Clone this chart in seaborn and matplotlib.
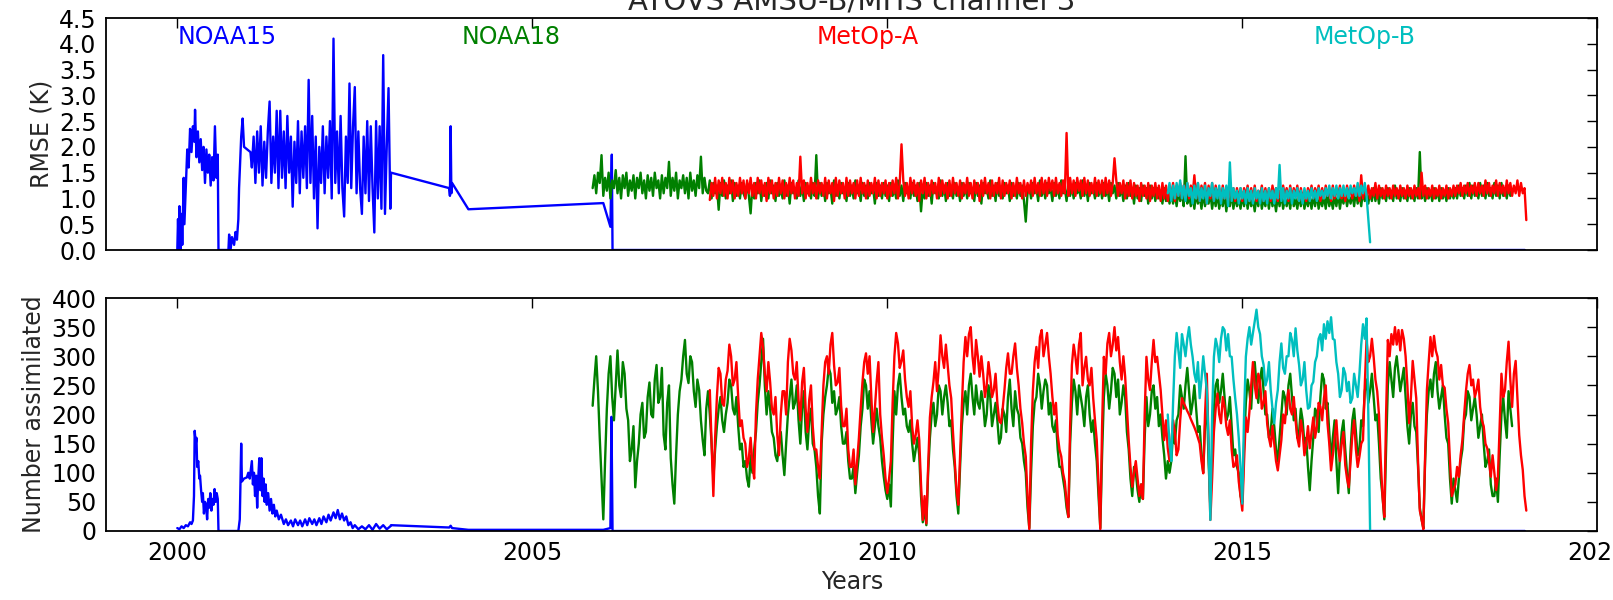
import numpy as np
import matplotlib
matplotlib.use("Agg")
import matplotlib.pyplot as plt
import seaborn as sns

# ------------------------------------------------------------------ data
STEP = 0.025  # sampling interval (years) of the NOAA18 / MetOp series

noaa18_start = 2005.85
noaa18_count = [
    215, 260, 300, 240, 160, 90, 20, 120, 210, 270, 300, 230, 190, 250, 310, 250, 230, 290, 270, 210,
    190, 120, 140, 180, 75, 120, 150, 200, 220, 160, 170, 230, 255, 200, 195, 260, 285, 220, 230, 280,
    165, 140, 220, 250, 125, 80, 47, 130, 200, 240, 260, 300, 328, 270, 254, 300, 290, 240, 213, 260,
    242, 190, 156, 130, 210, 240,
    200, 150, 90, 140, 180, 210, 230, 190, 170, 200, 220, 260, 250, 210, 200, 230, 180, 140, 150, 110,
    120, 90, 76, 130, 100, 140, 170, 220, 250, 290, 330, 250, 200, 240, 210, 170, 160, 130, 120, 150,
    170, 130, 96, 150, 200, 230, 260, 210, 220, 250, 190, 150, 210, 240, 170, 140, 190, 210, 150, 140,
    110, 60, 30, 150, 200, 230, 250, 280, 270, 220, 240, 200, 210, 230, 180, 150, 150, 170, 120, 90,
    90, 110, 65, 100, 130, 180, 210, 260, 250, 210, 240, 190, 150, 180, 210, 180, 160, 120, 93, 70,
    55, 80, 42, 150, 240, 200, 250, 270, 230, 200, 210, 180, 170, 190, 150, 120, 140, 160, 130, 60,
    15, 40, 10, 100, 160, 200, 220, 180, 200, 250, 240, 200, 230, 250, 220, 180, 190, 140, 110, 60,
    30, 110, 180, 220, 240, 200, 250, 270, 230, 200, 250, 220, 210, 240, 220, 180, 200, 250, 230, 180,
    200, 220, 190, 150, 160, 210, 200, 170, 230, 260, 210, 180, 240, 210, 200, 160, 150, 120, 100, 40,
    5, 100, 180, 220, 230, 270, 250, 210, 240, 260, 250, 200, 220, 180, 170, 190, 140, 110, 110, 90,
    70, 40, 24, 150, 220, 260, 240, 200, 250, 230, 210, 180, 230, 250, 200, 170, 190, 150, 120, 60,
    5, 130, 230, 270, 250, 210, 240, 280, 270, 230, 260, 200, 220, 250, 230, 170, 140, 90, 60, 110,
    100, 70, 50, 80, 55, 160, 230, 180, 200, 240, 250, 210, 230, 180, 200, 160, 130, 90, 120, 100,
    120, 170, 150, 190, 200, 250, 230, 210, 250, 280, 240, 200, 220, 250, 210, 170, 180, 130, 100, 180,
    230, 120, 40, 140, 210, 250, 260, 220, 240, 270, 230, 190, 200, 230, 180, 130, 140, 110, 100, 60,
    50, 150, 220, 260, 240, 210, 270, 290, 250, 220, 260, 280, 240, 200, 200, 160, 170, 210, 180, 140,
    120, 160, 200, 240, 230, 200, 250, 270, 230, 190, 210, 160, 170, 210, 190, 150, 160, 110, 70, 120,
    160, 210, 200, 170, 230, 270, 260, 210, 220, 170, 120, 160, 190, 120, 65, 130, 170, 190, 140, 100,
    65, 140, 190, 210, 170, 130, 140, 190, 180, 240, 260, 220, 240, 270, 230, 190, 200, 150, 90, 60,
    20, 140, 250, 290, 260, 230, 280, 300, 270, 240, 260, 280, 230, 180, 150, 200, 220, 180, 170, 110,
    40, 20, 5, 120, 200, 240, 260, 230, 270, 290, 240, 210, 230, 250, 200, 160, 150, 90, 47, 90,
    70, 50, 90, 120, 140, 190, 200, 240, 230, 190, 210, 230, 200, 160, 180, 200, 150, 110, 120, 140,
    80, 60, 60, 90, 50, 130, 200, 230, 190, 160, 240, 210, 180,
]
noaa18_rmse = [
    1.2, 1.45, 1.1, 1.5, 1.3, 1.84, 1.05, 1.4, 1.15, 1.5, 1.0, 1.35, 1.2, 1.55, 1.1, 1.4, 1.0, 1.45, 1.2, 1.5,
    1.05, 1.35, 1.15, 1.45, 1.0, 1.4, 1.2, 1.5, 1.1, 1.35, 1.0, 1.45, 1.15, 1.4, 1.05, 1.5, 1.2, 1.35, 1.0, 1.45,
    1.1, 1.4, 1.2, 1.71, 1.05, 1.4, 1.15, 1.5, 1.0, 1.35, 1.2, 1.45, 1.1, 1.4, 1.0, 1.5, 1.15, 1.35, 1.05, 1.45,
    1.2, 1.81, 1.1, 1.4, 1.15,
    1.1, 1.35, 1.0, 1.3, 1.1, 1.25, 0.78, 1.3, 1.05, 1.35, 1.0, 1.25, 1.1, 1.35, 0.95, 1.3, 1.05, 1.25, 1.0, 1.3, 1.1,
    1.0, 1.3, 1.05, 0.71, 1.25, 1.0, 1.3, 1.1, 1.35, 0.95, 1.25, 1.05, 1.3, 1.0, 1.35, 1.1, 1.25, 0.95, 1.3, 1.05,
    1.2, 1.0, 1.35, 1.05, 1.25, 0.9, 1.3, 1.1, 1.2, 1.0, 1.35, 1.05, 1.25, 0.95, 1.3, 1.1, 1.2, 1.0, 1.3, 1.05,
    1.84, 1.0, 1.3, 1.05, 1.25, 0.95, 1.3, 1.1, 1.2, 0.9, 1.35, 1.05, 1.25, 1.0, 1.3, 1.1, 1.2, 0.95, 1.3, 1.05,
    1.25, 1.0, 1.35, 1.1, 1.2, 0.95, 1.3, 1.05, 1.25, 1.0, 1.3, 1.1, 1.2, 0.9, 1.3, 1.05, 1.25, 1.0, 1.3, 1.05,
    1.25, 0.95, 1.3, 1.05, 1.2, 1.0, 1.35, 1.05, 1.25, 0.95, 1.3, 1.1, 1.2, 1.0, 1.3, 1.05, 1.25, 0.95, 1.3, 0.75,
    1.2, 1.0, 1.3, 1.05, 1.25, 0.9, 1.3, 1.1, 1.2, 1.0, 1.35, 1.05, 1.25, 0.95, 1.3, 1.05, 1.2, 1.0, 1.3, 1.05,
    1.2, 0.95, 1.3, 1.05, 1.25, 1.0, 1.3, 1.1, 1.2, 0.95, 1.3, 1.05, 1.25, 0.9, 1.3, 1.1, 1.2, 1.0, 1.35, 1.05,
    1.25, 0.95, 1.3, 1.05, 1.2, 1.0, 1.3, 1.1, 1.25, 0.95, 1.3, 1.05, 1.2, 1.0, 1.3, 1.05, 1.25, 0.95, 0.55, 1.1,
    1.25, 1.0, 1.3, 1.1, 1.2, 0.95, 1.35, 1.05, 1.25, 1.0, 1.3, 1.1, 1.2, 0.95, 1.3, 1.05, 1.25, 1.0, 1.35, 1.1,
    1.2, 0.95, 1.3, 1.05, 1.25, 1.0, 1.3, 1.1, 1.2, 1.0, 1.35, 1.05, 1.25, 0.95, 1.3, 1.1, 1.2, 1.0, 1.3, 1.05,
    1.25, 1.0, 1.3, 1.05, 1.2, 0.95, 1.3, 1.1, 1.25, 1.0, 1.3, 1.05, 1.2, 0.95, 1.25, 1.0, 1.3, 1.05, 1.2, 0.9,
    1.25, 1.0, 1.2, 0.95, 1.25, 1.05, 1.2, 0.9, 1.25, 1.0, 1.2, 0.95, 1.2, 1.0, 1.15, 0.9, 1.2, 0.95, 1.15, 0.9,
    1.15, 0.9, 1.1, 0.85, 1.15, 0.95, 1.1, 0.85, 1.82, 0.9, 1.1, 0.85, 1.05, 0.8, 1.1, 0.9, 1.05, 0.8, 1.1, 0.85,
    1.05, 0.9, 1.1, 0.8, 1.05, 0.85, 1.1, 0.8, 1.0, 0.85, 1.1, 0.75, 1.05, 0.85, 1.1, 0.8, 1.05, 0.85, 1.0, 0.8,
    1.05, 0.85, 1.1, 0.8, 1.05, 0.85, 1.0, 0.75, 1.05, 0.85, 1.1, 0.8, 1.0, 0.85, 1.05, 0.8, 1.1, 0.85, 1.0, 0.75,
    1.05, 0.85, 1.1, 0.8, 1.0, 0.85, 1.05, 0.8, 1.1, 0.85, 1.0, 0.8, 1.05, 0.85, 1.1, 0.8, 1.0, 0.85, 1.05, 0.8,
    1.05, 0.85, 1.1, 0.8, 1.0, 0.85, 1.05, 0.8, 1.1, 0.85, 1.0, 0.8, 1.05, 0.85, 1.1, 0.8, 1.05, 0.9, 1.1, 0.85,
    1.05, 0.9, 1.1, 0.85, 1.15, 0.9, 1.1, 0.85, 1.15, 0.95, 1.1, 0.9, 1.15, 0.95, 1.2, 0.95, 1.15, 0.9, 1.2, 1.0,
    1.15, 0.95, 1.2, 1.0, 1.15, 0.95, 1.25, 1.0, 1.15, 0.95, 1.2, 1.0, 1.15, 0.95, 1.2, 1.0, 1.15, 0.95, 1.2, 1.0,
    1.9, 1.0, 1.15, 0.95, 1.2, 1.0, 1.15, 0.95, 1.2, 1.0, 1.15, 0.95, 1.2, 1.0, 1.15, 0.95, 1.2, 1.0, 1.15, 1.0,
    1.2, 1.0, 1.25, 1.05, 1.2, 1.0, 1.25, 1.05, 1.3, 1.0, 1.25, 1.05, 1.2, 1.0, 1.3, 1.05, 1.25, 1.0, 1.3, 1.05,
    1.2, 1.0, 1.3, 1.05, 1.25, 1.0, 1.3, 1.05, 1.2, 1.0, 1.25, 1.05, 1.15,
]

metopa_start = 2007.50
metopa_count = [
    242, 150, 60, 160, 230, 280, 270, 220, 215, 260, 275, 320, 300, 250, 260, 290, 230, 180, 190, 160,
    150, 110, 125, 160, 115, 90, 200, 260, 300, 340, 315, 270, 240, 290, 255, 210, 200, 230, 165, 130,
    200, 240, 240, 200, 290, 330, 310, 270, 260, 290, 225, 190, 255, 280, 210, 170, 225, 250, 180, 140,
    140, 110, 90, 170, 250, 290, 300, 270, 320, 340, 285, 250, 255, 280, 215, 180, 180, 210, 140, 110,
    110, 140, 80, 120, 160, 210, 255, 290, 305, 270, 300, 230, 170, 210, 256, 290, 200, 160, 130, 90,
    65, 90, 120, 220, 300, 340, 322, 280, 292, 310, 260, 230, 213, 240, 180, 150, 165, 190, 156, 80,
    19, 60, 13, 110, 195, 230, 256, 290, 240, 280, 336, 300, 280, 320, 285, 250, 228, 170, 120, 70,
    45, 130, 213, 290, 333, 300, 338, 350, 300, 270, 328, 300, 265, 300, 270, 230, 250, 290, 265, 230,
    242, 270, 220, 190, 185, 210, 242, 280, 305, 270, 270, 300, 322, 280, 250, 210, 185, 150, 128, 60,
    3, 150, 240, 290, 316, 280, 333, 345, 300, 320, 340, 300, 270, 230, 200, 220, 165, 140, 128, 100,
    85, 50, 24, 180, 285, 320, 299, 270, 320, 340, 250, 280, 299, 260, 250, 280, 228, 190, 156, 80,
    3, 180, 299, 270, 322, 340, 300, 320, 350, 310, 333, 290, 260, 300, 265, 210, 156, 110, 76, 100,
    120, 90, 60, 80, 55, 200, 299, 260, 242, 290, 328, 290, 299, 270, 242, 200, 156, 190, 142, 120,
    150, 190, 170, 130, 140, 190, 228, 220, 213, 206, 200, 192, 185, 178, 170, 160, 150, 120, 99, 200,
    270, 150, 19, 90, 170, 210, 236, 200, 185, 230, 213, 180, 165, 190, 140, 110, 113, 130, 85, 60,
    35, 120, 195, 170, 205, 250, 290, 250, 228, 270, 256, 210, 220, 240, 185, 160, 145, 180, 150, 120,
    104, 130, 156, 200, 185, 220, 242, 210, 200, 230, 190, 160, 145, 190, 170, 130, 150, 180, 142, 170,
    195, 160, 180, 220, 213, 190, 228, 250, 185, 150, 104, 130, 160, 190, 142, 120, 150, 170, 113, 90,
    75, 120, 165, 190, 140, 110, 128, 150, 156, 250, 328, 290, 300, 330, 299, 260, 240, 200, 120, 60,
    24, 200, 328, 300, 338, 320, 350, 320, 345, 310, 345, 330, 300, 250, 185, 230, 292, 260, 228, 120,
    35, 20, 3, 130, 242, 290, 333, 300, 335, 310, 299, 260, 285, 250, 246, 210, 185, 120, 60, 70,
    80, 110, 93, 130, 156, 200, 240, 270, 285, 250, 260, 230, 242, 260, 213, 190, 180, 150, 142, 120,
    93, 130, 100, 70, 93, 180, 270, 230, 242, 290, 325, 260, 213, 270, 292, 230, 165, 130, 105, 60, 35,
]
metopa_rmse = [
    0.97, 1.3, 1.05, 1.4, 1.0, 1.35, 1.1, 1.4, 1.05, 1.3, 1.0, 1.4, 1.1, 1.35, 1.0, 1.3, 1.05, 1.4, 1.1, 1.35,
    1.0, 1.35, 1.1, 1.4, 1.05, 1.3, 1.0, 1.4, 1.1, 1.35, 1.05, 1.3, 0.95, 1.4, 1.1, 1.35, 1.0, 1.3, 1.05, 1.4,
    1.1, 1.35, 1.0, 1.3, 1.05, 1.4, 1.1, 1.35, 1.0, 1.3, 1.05, 1.81, 1.1, 1.35, 1.0, 1.3, 1.05, 1.4, 1.1, 1.3,
    1.0, 1.35, 1.1, 1.3, 1.05, 1.4, 1.0, 1.35, 1.1, 1.3, 0.95, 1.4, 1.05, 1.35, 1.1, 1.3, 1.0, 1.4, 1.05, 1.35,
    1.1, 1.3, 1.0, 1.35, 1.05, 1.4, 1.1, 1.3, 1.0, 1.35, 1.05, 1.3, 1.1, 1.4, 1.0, 1.35, 1.05, 1.3, 1.1, 1.35,
    1.0, 1.3, 1.05, 1.35, 1.1, 1.4, 1.0, 1.3, 2.05, 1.35, 1.05, 1.3, 1.0, 1.4, 1.1, 1.35, 1.05, 1.3, 0.95, 1.35,
    1.1, 1.4, 1.0, 1.3, 1.05, 1.35, 1.1, 1.3, 1.0, 1.4, 1.05, 1.35, 1.1, 1.3, 1.0, 1.35, 1.05, 1.4, 1.1, 1.3,
    1.05, 1.35, 1.0, 1.3, 1.1, 1.4, 1.05, 1.3, 1.0, 1.35, 1.1, 1.3, 0.95, 1.35, 1.05, 1.4, 1.1, 1.3, 1.0, 1.35,
    1.05, 1.3, 1.1, 1.4, 1.0, 1.35, 1.05, 1.3, 1.1, 1.35, 1.0, 1.3, 1.05, 1.4, 1.1, 1.3, 1.0, 1.35, 1.05, 1.3,
    1.1, 1.35, 1.05, 1.4, 1.1, 1.3, 1.05, 1.4, 1.1, 1.35, 1.05, 1.4, 1.15, 1.35, 1.05, 1.4, 1.1, 1.3, 1.05, 1.35,
    1.1, 2.27, 1.05, 1.4, 1.1, 1.35, 1.05, 1.4, 1.15, 1.35, 1.05, 1.4, 1.1, 1.35, 1.05, 1.3, 1.1, 1.4, 1.05, 1.35,
    1.1, 1.35, 1.05, 1.4, 1.1, 1.35, 1.05, 1.3, 1.78, 1.35, 1.05, 1.3, 1.1, 1.35, 1.0, 1.3, 1.05, 1.35, 1.0, 1.3,
    1.05, 1.25, 0.95, 1.3, 1.05, 1.25, 1.0, 1.3, 0.95, 1.25, 1.05, 1.3, 1.0, 1.25, 0.95, 1.3, 1.0, 1.25, 0.95, 1.2,
    1.05, 1.3, 0.95, 1.25, 1.05, 1.3, 1.0, 1.25, 1.1, 1.3, 1.0, 1.25, 1.05, 1.45, 1.0, 1.3, 0.95, 1.25, 1.05, 1.3,
    0.9, 1.25, 1.0, 1.3, 0.95, 1.25, 1.05, 1.2, 0.95, 1.25, 1.0, 1.2, 0.95, 1.25, 1.05, 1.2, 0.95, 1.2, 1.0, 1.2,
    0.95, 1.2, 1.05, 1.25, 0.95, 1.2, 1.0, 1.25, 0.95, 1.15, 1.05, 1.25, 0.95, 1.2, 1.0, 1.2, 0.95, 1.25, 1.05, 1.2,
    0.95, 1.15, 1.0, 1.25, 1.05, 1.2, 0.95, 1.25, 1.0, 1.2, 1.05, 1.25, 0.95, 1.2, 1.0, 1.15, 0.95, 1.2, 1.05, 1.25,
    1.0, 1.2, 1.05, 1.25, 0.95, 1.2, 1.0, 1.25, 1.05, 1.2, 0.95, 1.25, 1.0, 1.2, 1.05, 1.25, 1.0, 1.2, 0.95, 1.25,
    1.05, 1.2, 1.0, 1.25, 1.05, 1.2, 0.95, 1.45, 1.0, 1.2, 1.05, 1.25, 1.0, 1.2, 1.05, 1.3, 1.0, 1.25, 1.05, 1.2,
    1.0, 1.25, 1.05, 1.2, 1.0, 1.25, 1.05, 1.2, 1.0, 1.25, 1.05, 1.2, 1.0, 1.25, 1.05, 1.2, 1.0, 1.25, 1.05, 1.2,
    1.0, 1.5, 1.05, 1.25, 1.0, 1.2, 1.05, 1.25, 1.0, 1.2, 1.05, 1.25, 1.0, 1.2, 1.05, 1.25, 1.0, 1.2, 1.05, 1.25,
    1.05, 1.25, 1.1, 1.3, 1.05, 1.25, 1.1, 1.3, 1.05, 1.25, 1.1, 1.3, 1.05, 1.3, 1.1, 1.25, 1.05, 1.35, 1.1, 1.3,
    1.05, 1.25, 1.1, 1.35, 1.05, 1.3, 1.1, 1.25, 1.05, 1.35, 1.1, 1.3, 1.05, 1.25, 1.1, 1.35, 1.05, 1.3, 1.1, 1.2,
    0.58,
]

metopb_start = 2013.95
metopb_count = [
    200, 150, 120, 220, 300, 340, 310, 280, 338, 320, 300, 330, 350, 320, 299, 270, 256, 290, 228, 260,
    300, 270, 242, 150, 19, 200, 299, 330, 316, 290, 330, 350, 345, 310, 338, 300, 299, 260, 228, 200,
    160, 110, 47, 200, 299, 330, 350, 320, 340, 360, 380, 350, 338, 300, 285, 250, 260, 290, 242, 210,
    185, 220, 242, 290, 322, 280, 270, 300, 300, 340, 328, 300, 348, 310, 285, 250, 260, 290, 242, 210,
    213, 250, 256, 290, 300, 330, 338, 310, 355, 330, 360, 340, 367, 330, 328, 290, 270, 230, 242, 280,
    270, 240, 256, 220, 228, 270, 250, 230, 270, 320, 355, 330, 365, 200, 0,
]
metopb_rmse = [
    1.1, 1.3, 0.95, 1.25, 1.0, 1.3, 1.05, 1.35, 1.0, 1.25, 0.95, 1.3, 1.05, 1.2, 0.9, 1.25, 1.0, 1.3, 0.95, 1.2,
    1.0, 1.25, 0.9, 1.2, 1.05, 1.3, 0.95, 1.2, 1.0, 1.25, 0.9, 1.2, 1.0, 1.25, 0.85, 1.7, 0.95, 1.2, 1.0, 1.15,
    0.9, 1.2, 1.0, 1.15, 0.9, 1.2, 0.95, 1.15, 0.9, 1.2, 1.0, 1.15, 0.9, 1.2, 0.95, 1.15, 0.9, 1.2, 1.0, 1.15,
    0.9, 1.2, 1.0, 1.65, 0.95, 1.2, 0.9, 1.15, 1.0, 1.2, 0.9, 1.15, 1.0, 1.2, 0.95, 1.15, 0.9, 1.2, 1.0, 1.15,
    0.95, 1.2, 1.0, 1.15, 0.95, 1.2, 1.05, 1.15, 1.0, 1.2, 1.05, 1.25, 1.0, 1.2, 1.05, 1.25, 1.0, 1.2, 1.05, 1.25,
    1.05, 1.2, 1.0, 1.25, 1.1, 1.2, 1.05, 1.3, 1.05, 1.25, 1.1, 1.3, 1.05, 0.6, 0.15,
]

# NOAA15 RMSE: irregular start, a dense band (2001.05-2003.0), then sparse points
noaa15_rmse_early = [
    (2000.00, 0.0), (2000.01, 0.6), (2000.02, 0.0), (2000.03, 0.85), (2000.045, 0.0), (2000.06, 0.7),
    (2000.07, 0.1), (2000.09, 1.4), (2000.10, 0.5), (2000.12, 1.2), (2000.14, 1.95), (2000.16, 1.6),
    (2000.18, 2.35), (2000.20, 1.9), (2000.22, 2.4), (2000.24, 2.1), (2000.25, 2.72), (2000.27, 1.8),
    (2000.29, 2.3), (2000.31, 1.7), (2000.33, 2.15), (2000.35, 1.55), (2000.37, 2.0), (2000.39, 1.3),
    (2000.41, 1.95), (2000.43, 1.5), (2000.45, 1.85), (2000.47, 1.25), (2000.49, 1.8), (2000.51, 1.35),
    (2000.53, 2.4), (2000.55, 1.4), (2000.57, 1.85), (2000.58, 0.0), (2000.72, 0.0), (2000.73, 0.3),
    (2000.75, 0.0), (2000.77, 0.25), (2000.80, 0.1), (2000.82, 0.35), (2000.84, 0.2), (2000.86, 0.6),
    (2000.87, 1.2), (2000.89, 1.85), (2000.90, 2.2), (2000.92, 2.55), (2000.94, 2.0), (2001.03, 1.9),
]
noaa15_band_start = 2001.05
noaa15_band_step = 0.025
noaa15_rmse_band = [
    1.6, 2.2, 1.3, 2.3, 1.5, 2.4, 1.25, 2.1, 1.4, 2.3, 2.88, 1.3, 2.2, 1.5, 2.7, 1.2, 2.7, 1.4, 2.3, 1.2,
    2.6, 1.5, 2.2, 0.84, 2.1, 1.3, 2.5, 1.1, 2.3, 1.4, 2.4, 1.2, 3.3, 1.3, 2.6, 1.0, 2.2, 0.42, 2.0, 1.3,
    2.4, 1.1, 2.2, 1.4, 2.5, 1.0, 4.1, 1.3, 2.3, 1.1, 2.6, 1.2, 0.65, 2.2, 1.3, 3.23, 1.2, 2.4, 3.16, 1.1,
    2.3, 1.2, 0.7, 2.2, 1.1, 2.5, 0.95, 2.4, 1.2, 0.34, 2.5, 1.0, 2.4, 0.8, 3.78, 0.7, 2.0, 3.14, 0.8,
]
noaa15_rmse_late = [
    (2003.01, 1.5), (2003.83, 1.2), (2003.84, 1.05), (2003.85, 2.4), (2003.86, 1.1), (2003.87, 1.3),
    (2004.10, 0.79), (2006.00, 0.91), (2006.10, 0.45), (2006.12, 1.85), (2006.13, 0.0), (2018.98, 0.0),
]
noaa15_count = [
    (2000.00, 5), (2000.03, 3), (2000.06, 8), (2000.09, 5), (2000.12, 10), (2000.15, 8), (2000.18, 15),
    (2000.20, 12), (2000.22, 18), (2000.235, 60), (2000.245, 172), (2000.26, 150), (2000.27, 160),
    (2000.28, 110), (2000.295, 120), (2000.31, 90), (2000.32, 95), (2000.335, 70), (2000.35, 50),
    (2000.36, 65), (2000.375, 30), (2000.39, 50), (2000.405, 45), (2000.42, 20), (2000.435, 55),
    (2000.45, 40), (2000.465, 65), (2000.48, 35), (2000.495, 55), (2000.51, 45), (2000.525, 72),
    (2000.54, 50), (2000.555, 65), (2000.57, 55), (2000.58, 0), (2000.86, 0), (2000.88, 20), (2000.90, 150),
    (2000.91, 85), (2000.94, 90), (2000.98, 92), (2001.00, 100), (2001.02, 90), (2001.05, 120),
    (2001.065, 80), (2001.08, 100), (2001.095, 60), (2001.11, 95), (2001.125, 40), (2001.14, 90),
    (2001.155, 125), (2001.17, 70), (2001.185, 125), (2001.20, 60), (2001.215, 90), (2001.23, 50),
    (2001.245, 80), (2001.26, 45), (2001.28, 65), (2001.30, 35), (2001.32, 55), (2001.34, 30),
    (2001.36, 45), (2001.38, 25), (2001.40, 35), (2001.43, 20), (2001.46, 28), (2001.50, 12),
    (2001.53, 20), (2001.56, 10), (2001.60, 18), (2001.63, 8), (2001.66, 20), (2001.70, 10),
    (2001.73, 18), (2001.76, 8), (2001.80, 20), (2001.83, 10), (2001.86, 22), (2001.90, 12),
    (2001.93, 20), (2001.96, 10), (2002.00, 22), (2002.03, 12), (2002.06, 25), (2002.10, 15),
    (2002.13, 28), (2002.16, 18), (2002.20, 32), (2002.23, 22), (2002.26, 36), (2002.29, 20),
    (2002.32, 30), (2002.35, 18), (2002.38, 25), (2002.41, 10), (2002.44, 15), (2002.47, 5),
    (2002.50, 10), (2002.55, 3), (2002.60, 8), (2002.65, 3), (2002.70, 10), (2002.75, 2),
    (2002.80, 12), (2002.85, 4), (2002.90, 10), (2002.95, 3), (2003.00, 8), (2003.01, 10),
    (2003.83, 6), (2003.85, 9), (2003.87, 5), (2004.10, 2), (2006.00, 2), (2006.10, 5),
    (2006.115, 196), (2006.13, 0), (2018.98, 0),
]

satellite_names = ["NOAA15", "NOAA18", "MetOp-A", "MetOp-B"]
satellite_colors = ["b", "g", "r", "c"]
label_years = [2000, 2004, 2009, 2016]
label_rmse_level = 4.0

title = "ATOVS AMSU-B/MHS channel 3"
ylabel_top = "RMSE (K)"
ylabel_bottom = "Number assimilated"
xlabel = "Years"
year_ticks = [2000, 2005, 2010, 2015, 2020]

# ------------------------------------------------------------------ helpers
def regular_years(start, values, step=STEP):
    return start + step * np.arange(len(values))


def draw(ax, x, y, color):
    sns.lineplot(x=np.asarray(x, float), y=np.asarray(y, float), ax=ax, color=color,
                 linewidth=1.7, estimator=None, sort=False, legend=False)


n15_rx = ([p[0] for p in noaa15_rmse_early]
          + list(regular_years(noaa15_band_start, noaa15_rmse_band, noaa15_band_step))
          + [p[0] for p in noaa15_rmse_late])
n15_ry = ([p[1] for p in noaa15_rmse_early] + noaa15_rmse_band
          + [p[1] for p in noaa15_rmse_late])
n15_cx = [p[0] for p in noaa15_count]
n15_cy = [p[1] for p in noaa15_count]

series_rmse = [
    (n15_rx, n15_ry),
    (regular_years(noaa18_start, noaa18_rmse), noaa18_rmse),
    (regular_years(metopa_start, metopa_rmse), metopa_rmse),
    (regular_years(metopb_start, metopb_rmse), metopb_rmse),
]
series_count = [
    (n15_cx, n15_cy),
    (regular_years(noaa18_start, noaa18_count), noaa18_count),
    (regular_years(metopa_start, metopa_count), metopa_count),
    (regular_years(metopb_start, metopb_count), metopb_count),
]

# ------------------------------------------------------------------ style
sns.set_style("white")
plt.rcParams["font.family"] = ["DejaVu Sans"]
plt.rcParams["axes.linewidth"] = 1.3
plt.rcParams["axes.edgecolor"] = "black"

W, H = 1613, 600
fig = plt.figure(figsize=(W / 100, H / 100), dpi=100)
left, right = 106.3 / W, 1597.3 / W
ax1 = fig.add_axes([left, 1 - 250 / H, right - left, (250 - 18) / H])
ax2 = fig.add_axes([left, 1 - 531 / H, right - left, (531 - 298) / H], sharex=ax1)

for (x, y), c in zip(series_rmse, satellite_colors):
    draw(ax1, x, y, c)
for (x, y), c in zip(series_count, satellite_colors):
    draw(ax2, x, y, c)

for name, c, yr in zip(satellite_names, satellite_colors, label_years):
    ax1.text(yr, label_rmse_level, name, color=c, fontsize=17)

ax1.set_xlim(1999, 2020)
ax1.set_ylim(0, 4.5)
ax2.set_ylim(0, 400)
ax1.set_yticks(np.arange(0, 4.51, 0.5))
ax1.set_yticklabels([f"{v:.1f}" for v in np.arange(0, 4.51, 0.5)])
ax2.set_yticks(np.arange(0, 401, 50))
ax2.set_xticks(year_ticks)
ax2.set_xticklabels([str(t) for t in year_ticks])

for ax in (ax1, ax2):
    ax.tick_params(direction="in", length=7.5, width=1.0, top=True, right=True,
                   labelsize=17, pad=7, colors="black")
    for s in ax.spines.values():
        s.set_visible(True)
        s.set_color("black")
ax1.tick_params(labelbottom=False)

ax1.set_title(title, fontsize=21)
ax1.set_ylabel(ylabel_top, fontsize=17)
ax2.set_ylabel(ylabel_bottom, fontsize=17)
ax1.set_xlabel("")
ax2.set_xlabel(xlabel, fontsize=17)

fig.savefig("out.png", dpi=100)
